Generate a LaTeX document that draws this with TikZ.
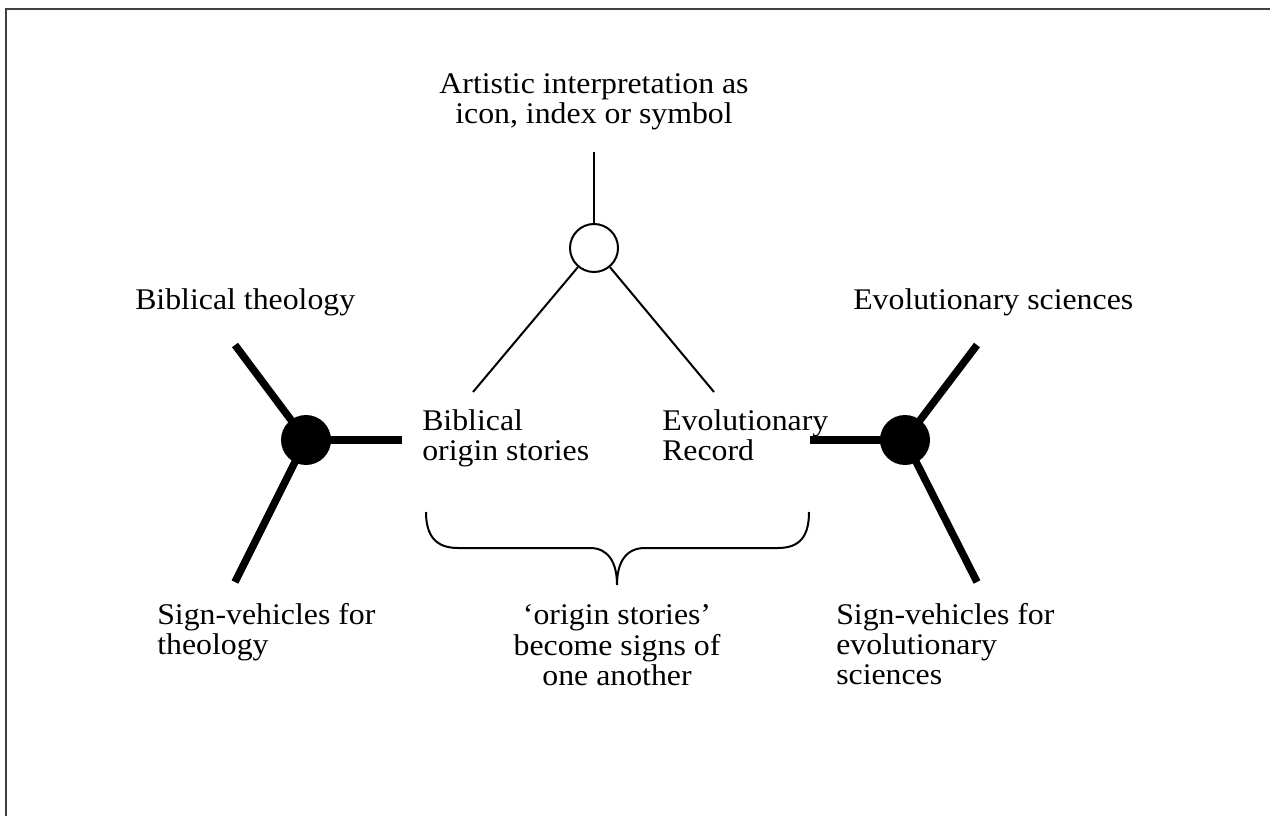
\documentclass[tikz,border=0pt]{standalone}
\usepackage{fontspec}
\setmainfont{Liberation Serif}[FakeStretch=1.06]
\begin{document}
\begin{tikzpicture}[x=0.75pt,y=-0.75pt,
  lbl/.style={inner sep=0pt, font=\fontsize{22.5pt}{22.5pt}\selectfont},
  thin/.style={line width=1.5pt, black},
  arm/.style={line width=5.6pt, black},
  hub/.style={circle, fill=black, inner sep=0pt, minimum size=37.5pt},
  ohub/.style={circle, draw=black, line width=1.5pt, fill=white, inner sep=0pt, minimum size=36pt},
  frameline/.style={line width=1.1pt, draw={rgb,255:red,64;green,64;blue,64}}]
\useasboundingbox (0,0) rectangle (1270,816);
\draw[frameline] (6,816) -- (6,9) -- (1270,9);

% labels (north = first baseline - 21px)
\node[lbl, anchor=north, align=center] (art) at (594,72) {\strut Artistic interpretation as\\icon, index or symbol};
\node[lbl, anchor=north west, align=left] (bt) at (135,288) {\strut Biblical theology};
\node[lbl, anchor=north west, align=left] (es) at (853,288) {\strut Evolutionary sciences};
\node[lbl, anchor=north west, align=left] (bos) at (422,409) {\strut Biblical\\origin stories};
\node[lbl, anchor=north west, align=left] (er) at (662,409) {\strut Evolutionary\\Record};
\node[lbl, anchor=north west, align=left] (svt) at (157,603) {\strut Sign-vehicles for\\theology};
\node[lbl, anchor=north, align=center] (os) at (617,603) {\strut ‘origin stories’\\become signs of\\one another};
\node[lbl, anchor=north west, align=left] (sve) at (836,603) {\strut Sign-vehicles for\\evolutionary\\sciences};

% top open circle
\node[ohub] (oc) at (594,248) {};
\coordinate (otop) at (594,152);
\coordinate (oleft) at (473,392);
\coordinate (oright) at (714,392);
\draw[thin] (oc) -- (otop);
\draw[thin] (oc) -- (oleft);
\draw[thin] (oc) -- (oright);

% left hub
\node[hub] (lc) at (306,440) {};
\coordinate (lup) at (235,345);
\coordinate (llow) at (235,582);
\coordinate (lr) at (402,440);
\draw[arm] (lc.center) -- (lup);
\draw[arm] (lc.center) -- (llow);
\draw[arm] (lc.center) -- (lr);

% right hub
\node[hub] (rc) at (905,440) {};
\coordinate (rup) at (977,345);
\coordinate (rlow) at (977,582);
\coordinate (rl) at (810,440);
\draw[arm] (rc.center) -- (rup);
\draw[arm] (rc.center) -- (rlow);
\draw[arm] (rc.center) -- (rl);

% brace
\draw[thin] (426,512) .. controls (426,536) and (436,548) .. (458,548)
  -- (590,548) .. controls (608,548) and (617,562) .. (617,585)
  .. controls (617,562) and (626,548) .. (645,548)
  -- (778,548) .. controls (800,548) and (809,536) .. (809,512);
\end{tikzpicture}
\end{document}
